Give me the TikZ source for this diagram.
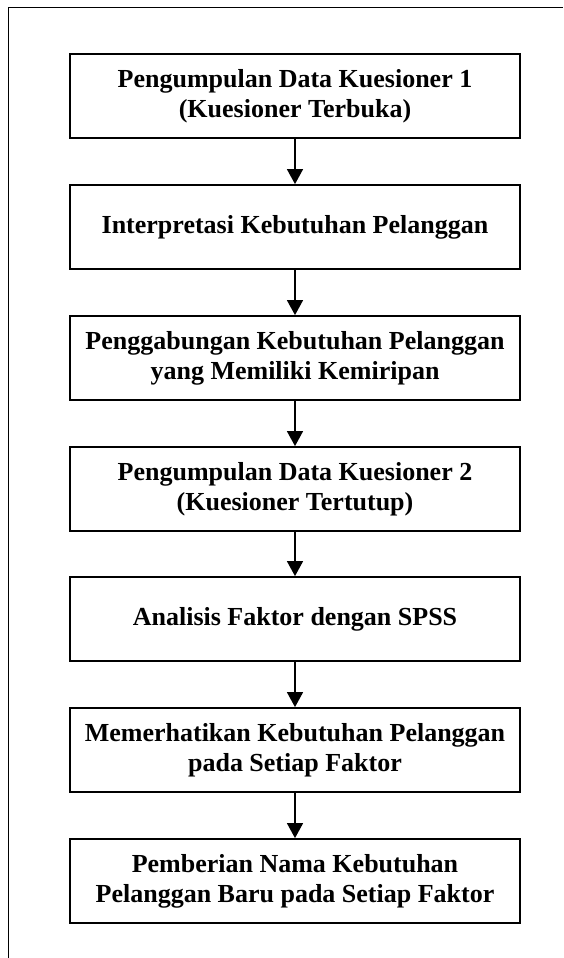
\documentclass[tikz,border=0pt]{standalone}
\usepackage{fontspec}
\setmainfont{Liberation Serif}
\usetikzlibrary{arrows.meta}
\begin{document}
\begin{tikzpicture}[x=1pt,y=-1pt,
  stepbox/.style={draw=black,line width=1.8pt,minimum width=450pt,minimum height=84pt,
    inner sep=0pt,align=center,font=\fontsize{26}{30}\selectfont\bfseries},
  flow/.style={line width=1.5pt,-{Triangle[width=16pt,length=15pt]}}]
\useasboundingbox (0,0) rectangle (563,958);
\draw[line width=1.8pt] (8.5,958) -- (8.5,7.5) -- (563,7.5);
\node[stepbox] (b1) at (295,96) {Pengumpulan Data Kuesioner 1\\(Kuesioner Terbuka)};
\node[stepbox] (b2) at (295,227) {Interpretasi Kebutuhan Pelanggan};
\node[stepbox] (b3) at (295,358) {Penggabungan Kebutuhan Pelanggan\\yang Memiliki Kemiripan};
\node[stepbox] (b4) at (295,489) {Pengumpulan Data Kuesioner 2\\(Kuesioner Tertutup)};
\node[stepbox] (b5) at (295,619) {Analisis Faktor dengan SPSS};
\node[stepbox] (b6) at (295,750) {Memerhatikan Kebutuhan Pelanggan\\pada Setiap Faktor};
\node[stepbox] (b7) at (295,881) {Pemberian Nama Kebutuhan\\Pelanggan Baru pada Setiap Faktor};
\foreach \a/\b in {b1/b2,b2/b3,b3/b4,b4/b5,b5/b6,b6/b7}
  \draw[flow] (\a) -- (\b);
\end{tikzpicture}
\end{document}
